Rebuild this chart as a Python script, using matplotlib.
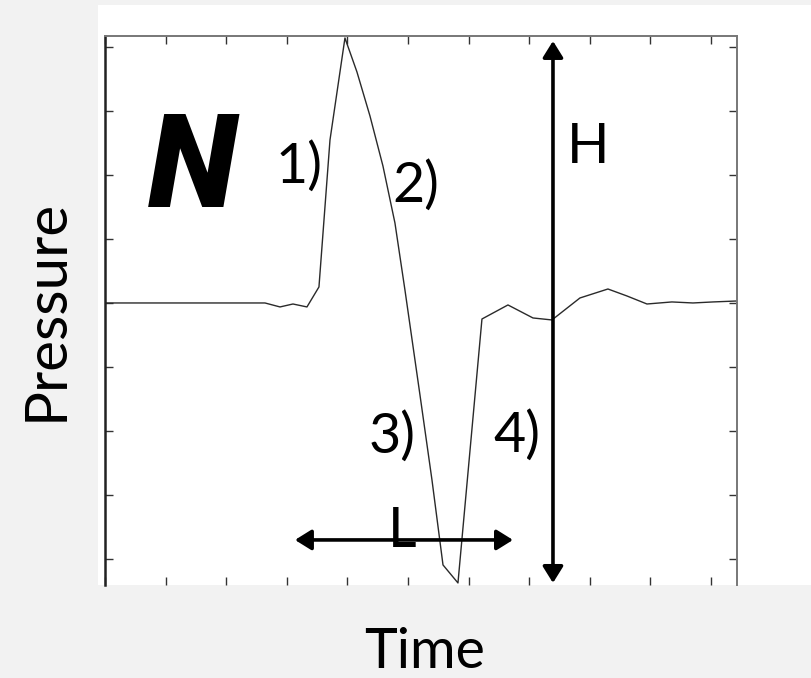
import numpy as np
import matplotlib.pyplot as plt
from matplotlib.patches import Rectangle

# Pulso de presion (onda N)
t = [0.0, 2.64, 2.888, 3.102, 3.333, 3.531, 3.713, 3.960, 4.158, 4.373,
     4.587, 4.785, 4.950, 5.198, 5.396, 5.578, 5.825, 6.221, 6.650, 7.063,
     7.376, 7.838, 8.300, 8.614, 8.944, 9.356, 9.703, 10.033, 10.429]
p = [0.0, 0.0, -0.062, -0.016, -0.062, 0.25, 2.543, 4.134, 3.604, 2.917,
     2.137, 1.248, 0.203, -1.435, -2.761, -4.087, -4.368, -0.250, -0.031, -0.234,
     -0.265, 0.078, 0.218, 0.109, -0.016, 0.016, 0.0, 0.016, 0.031]

xticks = np.arange(0, 11)
yticks = np.arange(-4, 5)

# flechas H y L
h_x, h_top, h_bot = 7.393, 4.087, -4.368
l_y, l_left, l_right = -3.697, 3.135, 6.733

# etiquetas de las fases
labels = ["1)", "2)", "3)", "4)", "H", "L"]
label_x = [2.822, 4.736, 4.356, 6.403, 7.624, 4.670]
label_y = [1.872, 1.576, -2.340, -2.325, 2.184, -3.807]

fnt = ["Lato", "DejaVu Sans"]

fig = plt.figure(figsize=(8.11, 6.78), dpi=100, facecolor="#f2f2f2")
# recuadro blanco detras de todo
fig.patches.append(Rectangle((98 / 811, 1 - 585 / 678), (811 - 98) / 811, 580 / 678,
                             transform=fig.transFigure, facecolor="white",
                             edgecolor="none", zorder=-10))

ax = fig.add_axes([105 / 811, 1 - 585 / 678, 632 / 811, 549 / 678])
ax.set_facecolor("white")
ax.plot(t, p, color="#2a2a2a", lw=1.0)
ax.set_xlim(0, 10.43)
ax.set_ylim(-4.40, 4.165)
ax.set_xticks(xticks)
ax.set_yticks(yticks)
ax.tick_params(direction="in", length=5.5, width=1.0, color="#333333",
               top=True, right=True, labelbottom=False, labelleft=False)
ax.spines["bottom"].set_visible(False)
ax.spines["left"].set_linewidth(1.8)
ax.spines["left"].set_color("#222222")
for s in ["top", "right"]:
    ax.spines[s].set_linewidth(1.4)
    ax.spines[s].set_color("#777777")

arrow = dict(arrowstyle="<|-|>,head_length=0.45,head_width=0.28", lw=2.6,
             color="black", shrinkA=0, shrinkB=0, mutation_scale=22)
ax.annotate("", xy=(h_x, h_top), xytext=(h_x, h_bot), arrowprops=arrow)
ax.annotate("", xy=(l_right, l_y), xytext=(l_left, l_y), arrowprops=arrow)

for lab, x, y in zip(labels, label_x, label_y):
    ax.text(x, y, lab, family=fnt, fontsize=40, ha="left", va="baseline")

ax.text(0.70, 1.498, "N", family=["Roboto", "DejaVu Sans"], fontweight="black",
        style="italic", fontsize=94, ha="left", va="baseline")

fig.text(425 / 811, 0.0, "Time", family=fnt, fontsize=40,
         ha="center", va="bottom")
fig.text(46 / 811, 1 - 310 / 678, "Pressure", family=fnt, fontsize=42,
         rotation=90, ha="center", va="center")

plt.savefig("out.png", dpi=100, facecolor=fig.get_facecolor())
